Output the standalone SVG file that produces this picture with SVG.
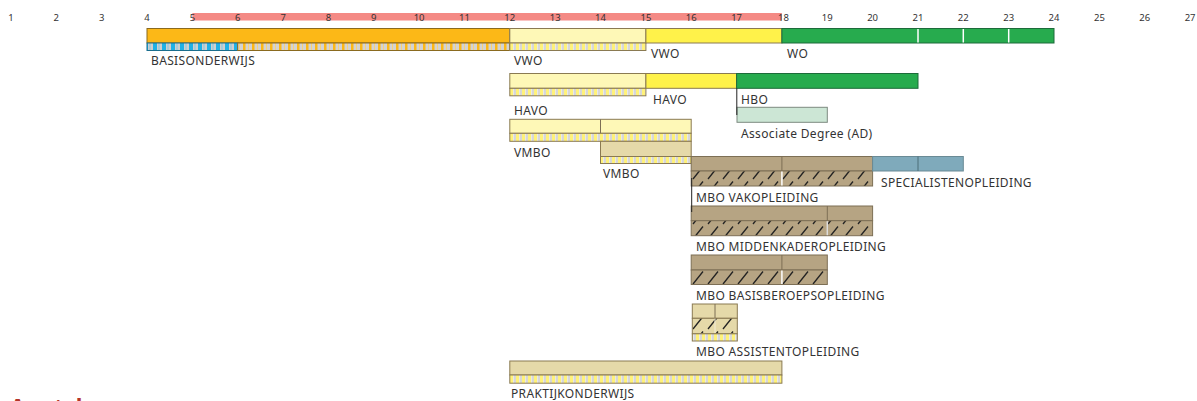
<svg xmlns="http://www.w3.org/2000/svg" width="1197" height="401" viewBox="0 0 1197 401">
<style>
.num{font-family:"Noto Sans","Open Sans",sans-serif;font-size:9.5px;fill:#333;text-anchor:middle}
.lbl{font-family:"Noto Sans","Open Sans",sans-serif;font-size:12px;fill:#333;letter-spacing:0.35px}
.bd{stroke:#8a7a52;stroke-width:1}
.ob{fill:#fcb817;stroke:#8a6a1f;stroke-width:1}
.ly{fill:#fef8b7}
.ye{fill:#fff24a}
.gr{fill:#27ab4e;stroke:#1d6b3a;stroke-width:1}
.tan{fill:#b6a483;stroke:#7d6f55;stroke-width:1}
.lt{fill:#e5d9a9}
.bg{fill:#7faabb;stroke:#6a8a95;stroke-width:1}
.ad{fill:#cce6d5;stroke:#7d8a80;stroke-width:1}
.dv{stroke:#7d6f55;stroke-width:1}
.wv{stroke:#ffffff;stroke-width:1.5}
.vl{stroke:#222;stroke-width:1}
</style>
<defs>
<pattern id="pYG" patternUnits="userSpaceOnUse" width="6" height="10">
<rect width="6" height="10" fill="#d7d7d7"/>
<rect x="0" width="3" height="10" fill="#fff27a"/>
<rect x="3" width="0.6" height="10" fill="#f4f4f4"/>
</pattern>
<pattern id="pBl" patternUnits="userSpaceOnUse" width="9" height="10">
<rect width="9" height="10" fill="#cfcfcf"/>
<rect x="0" width="4" height="10" fill="#1fb1e6"/>
<rect x="5.5" width="1" height="10" fill="#7ec8e6"/>
</pattern>
<pattern id="pOr" patternUnits="userSpaceOnUse" width="9" height="10">
<rect width="9" height="10" fill="#d3d3d3"/>
<rect x="0" width="2.5" height="10" fill="#fcb817"/>
<rect x="5" width="1" height="10" fill="#f8d27a"/>
</pattern>
<pattern id="pH" patternUnits="userSpaceOnUse" width="15" height="15" x="0" y="0">
<rect width="15" height="15" fill="#b6a483"/>
<line x1="3" y1="14" x2="13" y2="1.5" stroke="#222" stroke-width="1.3"/>
</pattern>
<pattern id="pHl" patternUnits="userSpaceOnUse" width="15" height="15" x="0" y="0">
<rect width="15" height="15" fill="#e5d9a9"/>
<line x1="3" y1="14" x2="13" y2="1.5" stroke="#222" stroke-width="1.3"/>
</pattern>
</defs>

<g id="ruler">
<rect x="192.4" y="13" width="589.5" height="7.5" fill="#f48a85"/>
<text class="num" x="11" y="21">1</text>
<text class="num" x="56.3" y="21">2</text>
<text class="num" x="101.7" y="21">3</text>
<text class="num" x="147" y="21">4</text>
<text class="num" x="192.4" y="21">5</text>
<text class="num" x="237.7" y="21">6</text>
<text class="num" x="283.1" y="21">7</text>
<text class="num" x="328.4" y="21">8</text>
<text class="num" x="373.8" y="21">9</text>
<text class="num" x="419.1" y="21">10</text>
<text class="num" x="464.5" y="21">11</text>
<text class="num" x="509.8" y="21">12</text>
<text class="num" x="555.2" y="21">13</text>
<text class="num" x="600.5" y="21">14</text>
<text class="num" x="645.9" y="21">15</text>
<text class="num" x="691.2" y="21">16</text>
<text class="num" x="736.6" y="21">17</text>
<text class="num" x="783.5" y="21">18</text>
<text class="num" x="827.3" y="21">19</text>
<text class="num" x="872.6" y="21">20</text>
<text class="num" x="918" y="21">21</text>
<text class="num" x="963.3" y="21">22</text>
<text class="num" x="1008.7" y="21">23</text>
<text class="num" x="1054" y="21">24</text>
<text class="num" x="1099.4" y="21">25</text>
<text class="num" x="1144.7" y="21">26</text>
<text class="num" x="1190.1" y="21">27</text>
</g>

<g id="basisonderwijs">
<rect class="ob" x="147" y="28.5" width="362.8" height="14.5"/>
<rect x="147" y="43" width="90.7" height="7.5" fill="url(#pBl)" stroke="#1a6e8e" stroke-width="1"/>
<rect x="237.7" y="43" width="272.1" height="7.5" fill="url(#pOr)" stroke="#8a6a1f" stroke-width="1"/>
<text class="lbl" x="151" y="64.5">BASISONDERWIJS</text>
</g>

<g id="vwo-onder">
<rect class="ly bd" x="509.8" y="28.5" width="136.1" height="14.5"/>
<rect class="bd" x="509.8" y="43" width="136.1" height="7.5" fill="url(#pYG)"/>
<text class="lbl" x="514" y="65">VWO</text>
</g>

<g id="vwo-boven">
<rect class="ye bd" x="645.9" y="28.5" width="136" height="14.5"/>
<text class="lbl" x="651" y="58">VWO</text>
</g>

<g id="wo">
<rect class="gr" x="781.9" y="28.5" width="272.1" height="14.5"/>
<line class="wv" x1="918" y1="29" x2="918" y2="42.5"/>
<line class="wv" x1="963.3" y1="29" x2="963.3" y2="42.5"/>
<line class="wv" x1="1008.7" y1="29" x2="1008.7" y2="42.5"/>
<text class="lbl" x="787" y="58">WO</text>
</g>

<g id="havo-onder">
<rect class="ly bd" x="509.8" y="73.5" width="136.1" height="14.8"/>
<rect class="bd" x="509.8" y="88.3" width="136.1" height="7.5" fill="url(#pYG)"/>
<text class="lbl" x="514" y="115">HAVO</text>
</g>

<g id="havo-boven">
<rect class="ye bd" x="645.9" y="73.5" width="90.7" height="14.8"/>
<text class="lbl" x="653" y="104">HAVO</text>
</g>

<g id="hbo">
<rect class="gr" x="736.6" y="73.5" width="181.4" height="14.8"/>
<text class="lbl" x="741" y="104">HBO</text>
</g>

<g id="associate-degree">
<rect class="ad" x="737" y="107.3" width="90.3" height="15"/>
<text class="lbl" x="741" y="137.5">Associate Degree (AD)</text>
</g>

<g id="vmbo-onder">
<rect class="ly bd" x="509.8" y="119.3" width="181.4" height="14"/>
<line class="dv" x1="600.5" y1="119.3" x2="600.5" y2="133.3"/>
<rect class="bd" x="509.8" y="133.3" width="181.4" height="8" fill="url(#pYG)"/>
<text class="lbl" x="514" y="157">VMBO</text>
</g>

<g id="vmbo-boven">
<rect class="lt bd" x="600.5" y="141.3" width="90.7" height="15.2"/>
<rect class="bd" x="600.5" y="156.5" width="90.7" height="7" fill="url(#pYG)"/>
<text class="lbl" x="603" y="178">VMBO</text>
</g>

<g id="mbo-vakopleiding">
<rect class="tan" x="691.2" y="156.5" width="181.4" height="14.5"/>
<line class="dv" x1="781.9" y1="156.5" x2="781.9" y2="171"/>
<rect x="691.2" y="171" width="181.4" height="15" fill="url(#pH)" stroke="#7d6f55" stroke-width="1"/>
<line class="wv" x1="781.9" y1="171.5" x2="781.9" y2="185.5"/>
<text class="lbl" x="696" y="201.5">MBO VAKOPLEIDING</text>
</g>

<g id="specialistenopleiding">
<rect class="bg" x="872.6" y="156.5" width="90.7" height="14.5"/>
<line stroke="#4d6e78" stroke-width="1" x1="918" y1="156.5" x2="918" y2="171"/>
<text class="lbl" x="881" y="187">SPECIALISTENOPLEIDING</text>
</g>

<g id="mbo-middenkaderopleiding">
<rect class="tan" x="691.2" y="206" width="181.4" height="14.7"/>
<line class="dv" x1="827.3" y1="206" x2="827.3" y2="220.7"/>
<rect x="691.2" y="220.7" width="181.4" height="15" fill="url(#pH)" stroke="#7d6f55" stroke-width="1"/>
<line stroke="#dddddd" stroke-width="1.5" x1="827.3" y1="221.2" x2="827.3" y2="235.2"/>
<text class="lbl" x="696" y="250.5">MBO MIDDENKADEROPLEIDING</text>
</g>

<g id="mbo-basisberoepsopleiding">
<rect class="tan" x="691.2" y="255" width="136.1" height="15"/>
<line class="dv" x1="781.9" y1="255" x2="781.9" y2="270"/>
<rect x="691.2" y="270" width="136.1" height="14.5" fill="url(#pH)" stroke="#7d6f55" stroke-width="1"/>
<line class="wv" x1="781.9" y1="270.5" x2="781.9" y2="284"/>
<text class="lbl" x="696" y="300">MBO BASISBEROEPSOPLEIDING</text>
</g>

<g id="mbo-assistentopleiding">
<rect class="lt bd" x="692.3" y="304" width="45" height="14.3"/>
<line class="dv" x1="715" y1="304" x2="715" y2="318.3"/>
<rect x="692.3" y="318.3" width="45" height="15.5" fill="url(#pHl)" stroke="#8a7a52" stroke-width="1"/>
<line stroke="#f0ead0" stroke-width="1.2" x1="715" y1="318.8" x2="715" y2="333.3"/>
<rect class="bd" x="692.3" y="333.8" width="45" height="7.2" fill="url(#pYG)"/>
<text class="lbl" x="696" y="356">MBO ASSISTENTOPLEIDING</text>
</g>

<g id="praktijkonderwijs">
<rect class="lt bd" x="509.8" y="361" width="272.1" height="14"/>
<rect class="bd" x="509.8" y="375" width="272.1" height="8.2" fill="url(#pYG)"/>
<text class="lbl" x="511" y="398">PRAKTIJKONDERWIJS</text>
</g>

<g id="connectors">
<line class="vl" x1="736.8" y1="88.3" x2="736.8" y2="115"/>
<line class="vl" x1="691.7" y1="178" x2="691.7" y2="212"/>
</g>

<g id="heading">
<text x="9" y="415.5" font-family="Liberation Sans, Arial, sans-serif" font-size="24" font-weight="bold" fill="#b5352a">Aantal</text>
</g>
</svg>
